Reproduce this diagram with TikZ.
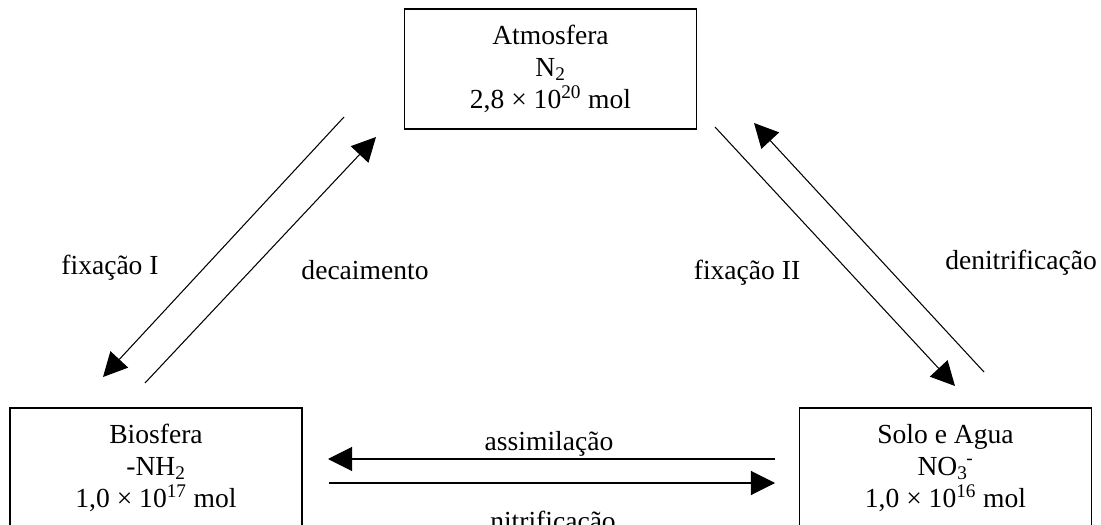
\documentclass[tikz,border=0pt]{standalone}
\usepackage{fontspec}
\setmainfont{Liberation Serif}
\usetikzlibrary{arrows.meta,positioning}
\tikzset{
          caixa/.style={
            rectangle,draw=black,line width=1.1pt,
            minimum width=7.3cm,minimum height=3cm,
            inner sep=0pt,align=center,texto
          },
          texto/.style={font=\fontsize{19.6pt}{23pt}\selectfont},
          rotulo/.style={texto,anchor=base},
          fluxo/.style={line width=0.75pt,-{Triangle[length=0.6cm,width=0.6cm]}}
        }
\newcommand\Fluxo[2]{%
          \draw[fluxo] (#1) -- (#2);
        }

\begin{document}
\begin{tikzpicture}[x=0.025cm,y=-0.025cm]
            \useasboundingbox (0,0) rectangle (1101,525);
            \clip (0,0) rectangle (1101,525);

            % reservatorios
            \node[caixa] (atm) at (550.5,69)
              {Atmosfera\\N\textsubscript{2}\\2,8 × 10\textsuperscript{20} mol};
            \node[caixa] (bio) at (156,468)
              {Biosfera\\-NH\textsubscript{2}\\1,0 × 10\textsuperscript{17} mol};
            \node[caixa] (solo) at (945.5,468)
              {Solo e Agua\\NO\textsubscript{3}\kern-0.05em\textsuperscript{-}\\1,0 × 10\textsuperscript{16} mol};

            % pontas das setas
            \coordinate (fixI-a) at (344,117);  \coordinate (fixI-b) at (103,377);
            \coordinate (dec-a) at (145,383);   \coordinate (dec-b) at (376,137);
            \coordinate (fixII-a) at (715,127); \coordinate (fixII-b) at (955,386);
            \coordinate (den-a) at (984,372);   \coordinate (den-b) at (754,123);
            \coordinate (ass-a) at (775,459);   \coordinate (ass-b) at (328,459);
            \coordinate (nit-a) at (329,483);   \coordinate (nit-b) at (775,483);

            \Fluxo{fixI-a}{fixI-b} \Fluxo{dec-a}{dec-b}
            \Fluxo{fixII-a}{fixII-b} \Fluxo{den-a}{den-b}
            \Fluxo{ass-a}{ass-b} \Fluxo{nit-a}{nit-b}

            % nomes dos processos
            \node[rotulo] (l-fixI) at (110,275) {fixação I};
            \node[rotulo] (l-dec) at (365,280) {decaimento};
            \node[rotulo] (l-fixII) at (747,280) {fixação II};
            \node[rotulo] (l-den) at (1021,270) {denitrificação};
            \node[rotulo] (l-ass) at (549,450) {assimilação};
            \node[rotulo] (l-nit) at (553,530) {nitrificação};

          \end{tikzpicture}
\end{document}
